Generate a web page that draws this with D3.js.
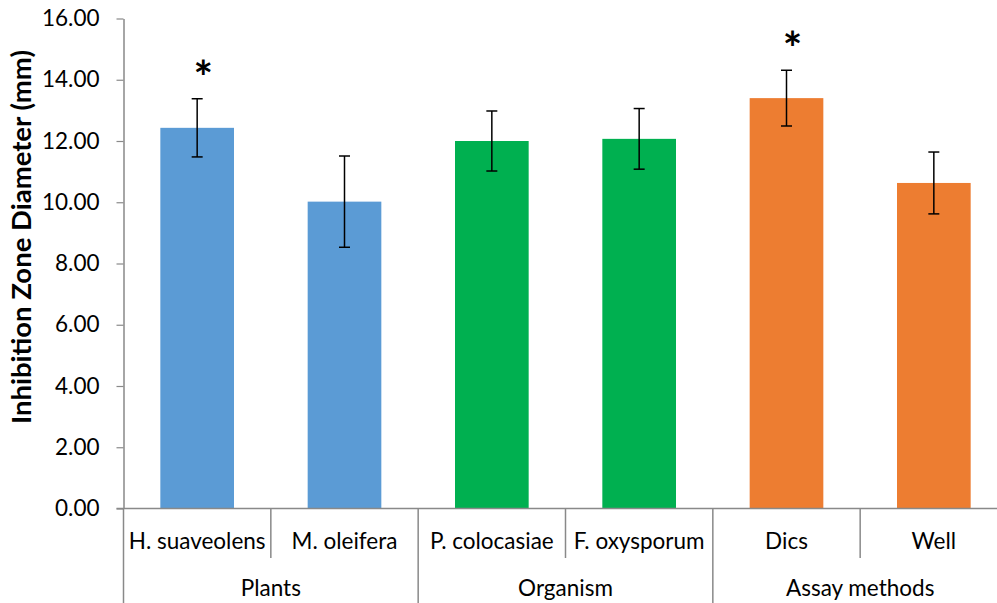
<!DOCTYPE html>
<html>
<head>
<meta charset="utf-8">
<script src="https://cdn.jsdelivr.net/npm/d3@7"></script>
<style>
  html, body { margin: 0; padding: 0; background: #fff; }
  svg { display: block; font-family: Lato, "Open Sans", sans-serif; }
</style>
</head>
<body>
<svg id="chart" width="997" height="603"></svg>
<script>
// ---- data ----
const categories = ["H. suaveolens", "M. oleifera", "P. colocasiae", "F. oxysporum", "Dics", "Well"];
const groups = ["Plants", "Plants", "Organism", "Organism", "Assay methods", "Assay methods"];
const values = [12.43, 10.02, 12.00, 12.07, 13.40, 10.63];
const errors = [0.95, 1.49, 0.98, 0.99, 0.91, 1.01];
const significant = [true, false, false, false, true, false];
const yTicks = [0, 2, 4, 6, 8, 10, 12, 14, 16];
const yTitle = "Inhibition Zone Diameter (mm)";
const groupColors = { "Plants": "#5B9BD5", "Organism": "#00B050", "Assay methods": "#ED7D31" };

(function () {
// ---- layout ----
const svg = d3.select("#chart");
const pLeft = 123.5, pRight = 1007.5, pTop = 18.5, pBottom = 508.5, H = 603;
const axisColor = "#898989";

const x = d3.scaleBand().domain(categories).range([pLeft, pRight]).paddingInner(0.5).paddingOuter(0.25);
const y = d3.scaleLinear().domain([0, 16]).range([pBottom, pTop]);

// y axis
const yAxis = svg.append("g")
  .attr("transform", `translate(${pLeft},0)`)
  .call(d3.axisLeft(y).tickValues(yTicks).tickFormat(d3.format(".2f")).tickSizeInner(7).tickSizeOuter(0).tickPadding(17));
yAxis.select(".domain").attr("stroke", axisColor).attr("stroke-width", 1.5);
yAxis.selectAll(".tick line").attr("stroke", axisColor).attr("stroke-width", 1.2);
yAxis.selectAll(".tick text").attr("fill", "#000").attr("font-size", 22.5).attr("font-family", "Lato, sans-serif");

// y axis extended down through category area
svg.append("line").attr("x1", pLeft).attr("x2", pLeft).attr("y1", pBottom).attr("y2", H)
  .attr("stroke", axisColor).attr("stroke-width", 1.5);

// y title
svg.append("text")
  .attr("transform", `translate(31,237) rotate(-90)`)
  .attr("text-anchor", "middle")
  .attr("font-weight", "bold")
  .attr("font-size", 27.5)
  .text(yTitle);

// bars
const data = categories.map((c, i) => ({ c, g: groups[i], v: values[i], e: errors[i], s: significant[i] }));
svg.append("g").selectAll("rect").data(data).join("rect")
  .attr("x", d => x(d.c))
  .attr("y", d => y(d.v))
  .attr("width", x.bandwidth())
  .attr("height", d => y(0) - y(d.v))
  .attr("fill", d => groupColors[d.g]);

// error bars
const eb = svg.append("g").attr("stroke", "#000").attr("stroke-width", 1.5);
data.forEach(d => {
  const cx = x(d.c) + x.bandwidth() / 2;
  eb.append("line").attr("x1", cx).attr("x2", cx).attr("y1", y(d.v + d.e)).attr("y2", y(d.v - d.e));
  eb.append("line").attr("x1", cx - 5.5).attr("x2", cx + 5.5).attr("y1", y(d.v + d.e)).attr("y2", y(d.v + d.e));
  eb.append("line").attr("x1", cx - 5.5).attr("x2", cx + 5.5).attr("y1", y(d.v - d.e)).attr("y2", y(d.v - d.e));
});

// significance asterisks
svg.append("g").selectAll("text").data(data.filter(d => d.s)).join("text")
  .attr("x", d => x(d.c) + x.bandwidth() / 2 + 6)
  .attr("y", d => y(d.v + d.e) - 5)
  .attr("text-anchor", "middle")
  .attr("font-size", 46)
  .attr("font-weight", "bold")
  .text("*");

// x axis line
svg.append("line").attr("x1", pLeft - 7).attr("x2", 997).attr("y1", pBottom).attr("y2", pBottom)
  .attr("stroke", axisColor).attr("stroke-width", 1.5);

// category dividers
const step = x.step();
categories.forEach((c, i) => {
  const bx = pLeft + step * (i + 1);
  const groupEnd = i === categories.length - 1 || groups[i + 1] !== groups[i];
  if (i < categories.length - 1) {
    svg.append("line").attr("x1", bx).attr("x2", bx).attr("y1", pBottom)
      .attr("y2", groupEnd ? H : 558)
      .attr("stroke", axisColor).attr("stroke-width", 1.5);
  }
});
svg.append("g").selectAll("text").data(categories).join("text")
  .attr("x", d => x(d) + x.bandwidth() / 2)
  .attr("y", 549)
  .attr("text-anchor", "middle")
  .attr("font-size", 22.5)
  .text(d => d);

// group labels
const groupNames = Array.from(new Set(groups));
groupNames.forEach(g => {
  const members = categories.filter((c, i) => groups[i] === g);
  const x0 = x(members[0]) + x.bandwidth() / 2;
  const x1 = x(members[members.length - 1]) + x.bandwidth() / 2;
  svg.append("text")
    .attr("x", (x0 + x1) / 2)
    .attr("y", 596)
    .attr("text-anchor", "middle")
    .attr("font-size", 22.5)
    .text(g);
});
})();
</script>
</body>
</html>
